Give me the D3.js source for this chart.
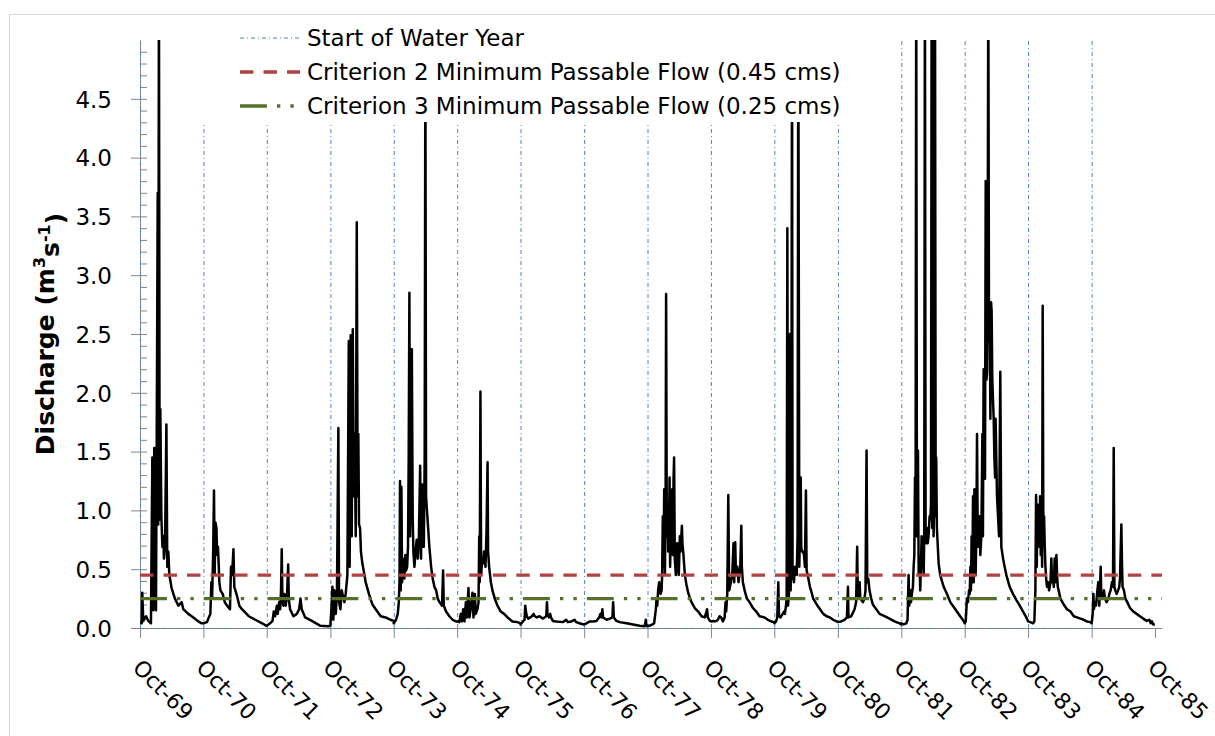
<!DOCTYPE html>
<html>
<head>
<meta charset="utf-8">
<script src="https://cdn.jsdelivr.net/npm/d3@7"></script>
<style>
  body { margin: 0; background: #fff; }
  svg { display: block; }
  text { font-family: "DejaVu Sans", sans-serif; fill: #000; }
</style>
</head>
<body>
<svg id="chart" width="1215" height="736"></svg>
<script>
// Discharge readings per water year: [day since 1 October, discharge m³/s]
const flowWY1970 = [[0,0.056],[10,0.04],[13,0.30],[19,0.06],[35,0.10],[48,0.06],[63,0.04],[71,1.45],[77,0.15],[82,1.53],[92,0.15],[98,2.24],[102,3.70],[105,0.88],[109,5.6],[113,0.92],[117,1.86],[123,0.95],[129,0.69],[134,0.78],[138,0.59],[144,0.69],[152,1.73],[157,0.52],[163,0.65],[169,0.45],[182,0.34],[201,0.25],[221,0.19],[240,0.22],[249,0.16],[278,0.12],[307,0.09],[336,0.056],[355,0.04]];
const flowWY1971 = [[0,0.04],[21,0.05],[31,0.09],[40,0.12],[46,0.39],[50,0.25],[56,0.62],[61,1.17],[65,0.45],[69,0.90],[75,0.85],[79,0.62],[84,0.69],[92,0.39],[98,0.32],[111,0.29],[123,0.22],[136,0.19],[153,0.16],[159,0.52],[165,0.45],[173,0.67],[178,0.35],[184,0.32],[194,0.27],[207,0.19],[222,0.16],[261,0.10],[299,0.07],[338,0.04],[361,0.02]];
const flowWY1972 = [[0,0.02],[19,0.04],[33,0.06],[40,0.14],[48,0.10],[58,0.19],[63,0.12],[71,0.22],[77,0.16],[82,0.32],[86,0.67],[90,0.22],[96,0.19],[102,0.29],[109,0.19],[117,0.29],[123,0.54],[127,0.24],[134,0.16],[153,0.10],[173,0.12],[186,0.16],[194,0.25],[201,0.16],[221,0.09],[259,0.06],[307,0.02],[355,0.015]];
const flowWY1973 = [[0,0.02],[6,0.16],[12,0.35],[17,0.07],[23,0.32],[31,0.12],[38,0.30],[46,1.70],[50,0.22],[58,0.16],[65,0.32],[73,0.27],[81,0.22],[88,0.29],[98,0.45],[106,2.44],[111,0.52],[117,2.49],[123,0.78],[129,2.54],[134,1.12],[140,1.65],[146,0.78],[152,3.45],[157,1.12],[161,1.65],[165,0.88],[171,0.85],[176,0.65],[184,0.55],[194,0.47],[203,0.39],[222,0.29],[242,0.20],[261,0.16],[290,0.10],[318,0.09],[347,0.07],[364,0.06]];
const flowWY1974 = [[0,0.04],[13,0.07],[23,0.12],[29,0.22],[33,0.39],[36,1.25],[40,0.32],[44,1.20],[48,0.39],[52,0.59],[56,0.49],[61,0.42],[67,0.62],[71,0.49],[77,0.52],[82,0.69],[86,1.45],[90,2.85],[94,0.78],[98,1.18],[104,2.37],[109,0.95],[113,0.65],[119,0.52],[125,0.65],[132,0.75],[138,0.59],[144,0.72],[152,1.38],[157,0.59],[163,1.22],[167,0.69],[173,0.69],[178,1.45],[182,4.9],[186,1.12],[192,0.98],[198,0.85],[205,0.69],[215,0.52],[224,0.42],[234,0.35],[244,0.32],[253,0.25],[263,0.22],[278,0.19],[284,0.49],[288,0.19],[301,0.14],[320,0.10],[339,0.07],[359,0.056]];
const flowWY1975 = [[0,0.056],[12,0.05],[21,0.12],[27,0.056],[35,0.16],[42,0.056],[50,0.22],[56,0.09],[65,0.34],[71,0.09],[81,0.19],[88,0.30],[94,0.09],[102,0.29],[107,0.12],[117,0.16],[123,0.22],[127,0.78],[130,0.39],[134,2.01],[138,0.45],[144,0.59],[150,0.55],[155,0.65],[163,0.52],[169,0.82],[175,1.41],[178,0.65],[184,0.52],[194,0.39],[203,0.32],[219,0.24],[232,0.19],[251,0.14],[270,0.12],[290,0.09],[318,0.056],[347,0.05],[364,0.04]];
const flowWY1976 = [[0,0.03],[13,0.056],[23,0.07],[27,0.19],[31,0.14],[36,0.10],[44,0.08],[56,0.09],[65,0.10],[75,0.12],[82,0.10],[94,0.09],[109,0.10],[129,0.08],[148,0.10],[152,0.22],[155,0.12],[163,0.09],[171,0.12],[175,0.09],[186,0.06],[205,0.056],[244,0.05],[263,0.07],[272,0.05],[292,0.056],[311,0.07],[320,0.05],[339,0.04],[364,0.03]];
const flowWY1977 = [[0,0.03],[13,0.04],[33,0.056],[52,0.056],[71,0.06],[86,0.09],[94,0.12],[100,0.09],[105,0.16],[109,0.09],[129,0.07],[148,0.08],[163,0.09],[167,0.22],[171,0.09],[186,0.06],[205,0.05],[244,0.04],[282,0.03],[320,0.02],[349,0.015],[355,0.07],[359,0.02],[364,0.015]];
const flowWY1978 = [[0,0.02],[13,0.02],[29,0.03],[38,0.04],[48,0.16],[52,0.25],[56,0.19],[61,0.32],[67,0.39],[71,0.35],[75,0.29],[81,0.32],[84,0.45],[88,0.95],[92,0.52],[96,1.18],[100,0.45],[104,1.01],[107,2.84],[111,0.78],[115,1.05],[119,0.65],[123,0.78],[127,1.28],[130,0.52],[134,0.78],[138,0.72],[142,1.18],[146,0.62],[150,1.28],[153,1.45],[157,0.59],[163,0.45],[167,0.59],[171,0.72],[175,0.52],[180,0.45],[186,0.78],[190,0.65],[198,0.87],[201,0.72],[207,0.62],[215,0.45],[224,0.37],[234,0.30],[253,0.22],[272,0.17],[292,0.14],[311,0.10],[330,0.09],[343,0.16],[347,0.09],[359,0.06]];
const flowWY1979 = [[0,0.056],[12,0.06],[21,0.056],[31,0.06],[40,0.07],[50,0.10],[59,0.09],[69,0.056],[79,0.09],[84,0.22],[88,0.14],[94,0.29],[100,1.13],[105,0.32],[115,0.39],[123,0.45],[130,0.72],[134,0.39],[140,0.73],[144,0.45],[152,0.52],[159,0.39],[169,0.52],[175,0.87],[178,0.52],[184,0.39],[194,0.32],[207,0.25],[222,0.22],[242,0.17],[261,0.14],[280,0.10],[309,0.09],[328,0.07],[347,0.056],[364,0.05]];
const flowWY1980 = [[0,0.04],[10,0.056],[17,0.09],[23,0.39],[27,0.10],[36,0.09],[48,0.12],[56,0.14],[61,0.12],[67,0.19],[71,0.25],[75,3.40],[79,0.19],[84,0.29],[90,2.50],[94,0.32],[98,0.78],[102,5.3],[105,0.45],[113,0.39],[119,0.52],[129,0.45],[134,0.78],[138,5.3],[144,0.52],[152,1.28],[155,0.69],[159,0.65],[165,0.65],[171,0.62],[176,0.52],[182,1.17],[186,0.49],[196,0.42],[205,0.35],[215,0.30],[224,0.25],[244,0.20],[263,0.16],[282,0.12],[301,0.10],[320,0.09],[339,0.07],[359,0.056]];
const flowWY1981 = [[0,0.05],[19,0.056],[38,0.07],[52,0.09],[58,0.35],[61,0.09],[77,0.10],[96,0.16],[105,0.22],[111,0.69],[115,0.25],[121,0.32],[125,0.39],[129,0.25],[144,0.22],[153,0.25],[159,0.32],[165,1.51],[169,0.39],[175,0.42],[182,0.32],[192,0.25],[201,0.20],[221,0.16],[240,0.12],[269,0.10],[297,0.08],[326,0.056],[355,0.04],[364,0.03]];
const flowWY1982 = [[0,0.04],[13,0.03],[29,0.04],[36,0.07],[42,0.45],[46,0.19],[52,0.32],[56,0.22],[61,0.29],[67,0.35],[71,0.52],[75,0.62],[79,1.28],[82,0.78],[86,5.6],[90,0.78],[96,1.51],[100,0.45],[105,0.59],[109,0.32],[113,0.52],[117,0.78],[121,0.59],[125,0.62],[129,0.45],[132,0.78],[136,5.6],[140,0.78],[144,0.72],[148,0.85],[152,0.72],[157,0.78],[163,0.95],[167,0.92],[171,1.05],[175,5.6],[178,0.85],[182,5.6],[186,0.78],[190,1.12],[194,5.6],[198,0.95],[201,1.45],[205,0.85],[215,0.55],[224,0.45],[244,0.35],[263,0.29],[282,0.22],[311,0.16],[339,0.10],[359,0.06]];
const flowWY1983 = [[0,0.04],[6,0.056],[13,0.25],[19,0.22],[25,0.32],[29,0.29],[33,0.52],[36,0.32],[40,0.78],[44,0.39],[48,1.12],[52,0.39],[56,1.18],[59,0.62],[63,0.45],[67,0.78],[71,1.65],[75,0.78],[79,0.69],[82,0.78],[86,0.95],[90,0.62],[96,0.78],[102,1.65],[105,0.78],[109,2.20],[113,1.61],[117,1.27],[121,3.80],[125,2.11],[129,2.17],[132,2.77],[136,5.6],[140,2.44],[144,2.77],[148,1.78],[152,2.77],[155,2.70],[159,2.11],[163,1.94],[167,1.78],[171,1.45],[175,1.28],[178,1.78],[182,1.45],[186,1.12],[192,0.95],[198,0.78],[205,2.18],[211,0.69],[221,0.59],[230,0.52],[240,0.45],[259,0.35],[278,0.29],[297,0.24],[317,0.19],[336,0.14],[355,0.09],[364,0.06]];
const flowWY1984 = [[0,0.056],[13,0.05],[29,0.04],[36,0.056],[42,0.32],[46,1.13],[50,0.52],[54,1.05],[58,0.78],[61,0.95],[65,0.69],[69,1.12],[73,0.62],[77,0.95],[81,0.52],[84,2.74],[88,0.78],[92,0.95],[96,0.69],[100,0.52],[104,0.42],[109,0.35],[115,0.39],[121,0.32],[129,0.39],[134,0.59],[138,0.39],[144,0.45],[148,0.35],[153,0.59],[157,0.39],[163,0.62],[167,0.45],[171,0.35],[176,0.32],[186,0.25],[205,0.20],[224,0.16],[244,0.14],[263,0.10],[282,0.09],[301,0.08],[320,0.07],[339,0.056],[359,0.05]];
const flowWY1985 = [[0,0.04],[6,0.12],[10,0.29],[13,0.16],[19,0.22],[25,0.19],[33,0.32],[38,0.39],[44,0.19],[52,0.52],[56,0.25],[63,0.25],[71,0.32],[77,0.25],[86,0.22],[96,0.25],[102,0.29],[109,0.32],[117,0.39],[123,0.35],[127,1.53],[131,0.35],[136,0.32],[144,0.29],[152,0.32],[159,0.35],[163,0.42],[167,0.65],[171,0.88],[175,0.52],[178,0.35],[186,0.32],[194,0.25],[205,0.22],[221,0.17],[240,0.14],[259,0.12],[278,0.10],[297,0.08],[317,0.06],[332,0.07],[340,0.04],[347,0.056],[355,0.03],[364,0.03]];

const waterYearFlows = [
  [1970, flowWY1970], [1971, flowWY1971], [1972, flowWY1972], [1973, flowWY1973],
  [1974, flowWY1974], [1975, flowWY1975], [1976, flowWY1976], [1977, flowWY1977],
  [1978, flowWY1978], [1979, flowWY1979], [1980, flowWY1980], [1981, flowWY1981],
  [1982, flowWY1982], [1983, flowWY1983], [1984, flowWY1984], [1985, flowWY1985]
];

// Calendar years whose 1 October opens a water year (marker lines)
const waterYearStarts = [1969,1970,1971,1972,1973,1974,1975,1976,1977,1978,1979,1980,1981,1982,1983,1984];
// Years labelled on the x axis (1 October of each)
const xTickYears = [1969,1970,1971,1972,1973,1974,1975,1976,1977,1978,1979,1980,1981,1982,1983,1984,1985];
const yTickValues = [0,0.5,1.0,1.5,2.0,2.5,3.0,3.5,4.0,4.5];

const criterion2Flow = 0.45;
const criterion3Flow = 0.25;
const legendLabels = [
  "Start of Water Year",
  "Criterion 2 Minimum Passable Flow (0.45 cms)",
  "Criterion 3 Minimum Passable Flow (0.25 cms)"
];

const DAY = 864e5;
const oct1 = yr => new Date(Date.UTC(yr, 9, 1));

const series = waterYearFlows.flatMap(([wy, pts]) =>
  pts.map(([d, v]) => ({ date: new Date(oct1(wy - 1).getTime() + d * DAY), value: v })));

const svg = d3.select("#chart");
const axisGray = "#868686";
const markerBlue = "#4F81BD";
const red = "#B0433F";
const green = "#56702B";
const weight = 3.36;

const x = d3.scaleUtc().domain([oct1(1969), new Date(Date.UTC(1985, 10, 10))]).range([140, 1162]);
const y = d3.scaleLinear().domain([0, 5]).range([628, 40]);
const [x0, x1] = x.range();

// Outer chart frame
svg.append("rect").attr("x", 9.5).attr("y", 14.5).attr("width", 1230).attr("height", 740)
  .attr("fill", "none").attr("stroke", "#d9d9d9").attr("stroke-width", 1);

svg.append("defs").append("clipPath").attr("id", "plotClip")
  .append("rect").attr("x", x0).attr("y", y(5)).attr("width", x1 - x0).attr("height", y(0) - y(5) + 4);

// Axes
const yAxis = svg.append("g").attr("transform", `translate(${x0},0)`)
  .call(d3.axisLeft(y).tickValues(yTickValues).tickFormat(d3.format(".1f"))
    .tickSizeInner(9).tickSizeOuter(0).tickPadding(19));
yAxis.selectAll("text").style("font-size", "23px").attr("dy", "0.36em");
yAxis.selectAll("line, path").attr("stroke", axisGray);

const minorTicks = d3.range(0, 50).map(i => i / 10);
svg.append("g").attr("transform", `translate(${x0},0)`)
  .call(d3.axisRight(y).tickValues(minorTicks).tickFormat("").tickSizeInner(7).tickSizeOuter(0))
  .call(g => g.select(".domain").remove())
  .selectAll("line").attr("stroke", axisGray);

const xAxis = svg.append("g").attr("transform", `translate(0,${y(0)})`)
  .call(d3.axisBottom(x).tickValues(xTickYears.map(oct1)).tickFormat(d3.utcFormat("Oct-%y"))
    .tickSizeInner(10).tickSizeOuter(0));
xAxis.selectAll("line, path").attr("stroke", axisGray);
xAxis.selectAll("text")
  .attr("x", 0).attr("y", 0).attr("dy", 0)
  .attr("transform", "translate(-9,41) rotate(45)")
  .style("text-anchor", "start").style("font-size", "22px");
xAxis.attr("font-family", null);
yAxis.attr("font-family", null);

// Start-of-water-year markers
const markers = svg.append("g").attr("stroke", markerBlue).attr("stroke-width", 1)
  .attr("stroke-dasharray", "4,3,1,3").attr("fill", "none");
markers.selectAll("line").data(waterYearStarts).join("line")
  .attr("x1", d => x(oct1(d)) + 0.5).attr("x2", d => x(oct1(d)) + 0.5)
  .attr("y1", y(0)).attr("y2", y(5));
markers.append("line")
  .attr("x1", x(oct1(waterYearStarts[0]))).attr("x2", x(oct1(waterYearStarts[waterYearStarts.length - 1])))
  .attr("y1", y(0) + 0.5).attr("y2", y(0) + 0.5);

// Discharge
svg.append("path").datum(series)
  .attr("clip-path", "url(#plotClip)")
  .attr("fill", "none").attr("stroke", "#000").attr("stroke-width", 2.5)
  .attr("stroke-linejoin", "round")
  .attr("d", d3.line().x(d => x(d.date)).y(d => y(d.value)));

// Passable flow criteria
const c2Dash = `${4 * weight},${3 * weight}`;
const c3Dash = `${8 * weight},${3 * weight},${weight},${3 * weight},${weight},${3 * weight}`;
svg.append("line").attr("x1", x0).attr("x2", x1)
  .attr("y1", y(criterion2Flow)).attr("y2", y(criterion2Flow))
  .attr("stroke", red).attr("stroke-width", weight).attr("stroke-dasharray", c2Dash);
svg.append("line").attr("x1", x0).attr("x2", x1)
  .attr("y1", y(criterion3Flow)).attr("y2", y(criterion3Flow))
  .attr("stroke", green).attr("stroke-width", weight).attr("stroke-dasharray", c3Dash);

// Y axis title
const title = svg.append("text")
  .attr("transform", "translate(54,334) rotate(-90)")
  .attr("text-anchor", "middle")
  .style("font-size", "25px").style("font-weight", "bold");
title.append("tspan").text("Discharge (m");
title.append("tspan").text("3").style("font-size", "16px").attr("dy", "-0.55em");
title.append("tspan").text("s").attr("dy", "0.55em");
title.append("tspan").text("-1").style("font-size", "16px").attr("dy", "-0.55em");
title.append("tspan").text(")").attr("dy", "0.55em");

// Legend
const legend = svg.append("g");
legend.append("rect").attr("x", 196).attr("y", 18).attr("width", 654).attr("height", 104).attr("fill", "#fff");
const legendStyles = [
  { stroke: markerBlue, width: 1, dash: "4,3,1,3" },
  { stroke: red, width: weight, dash: c2Dash },
  { stroke: green, width: weight, dash: c3Dash }
];
const rowY = [38, 72, 106];
legendLabels.forEach((label, i) => {
  const s = legendStyles[i];
  legend.append("line").attr("x1", 240).attr("x2", 300).attr("y1", rowY[i]).attr("y2", rowY[i])
    .attr("stroke", s.stroke).attr("stroke-width", s.width).attr("stroke-dasharray", s.dash);
  legend.append("text").attr("x", 307).attr("y", rowY[i]).attr("dy", "0.36em")
    .style("font-size", "23px").text(label);
});
</script>
</body>
</html>
